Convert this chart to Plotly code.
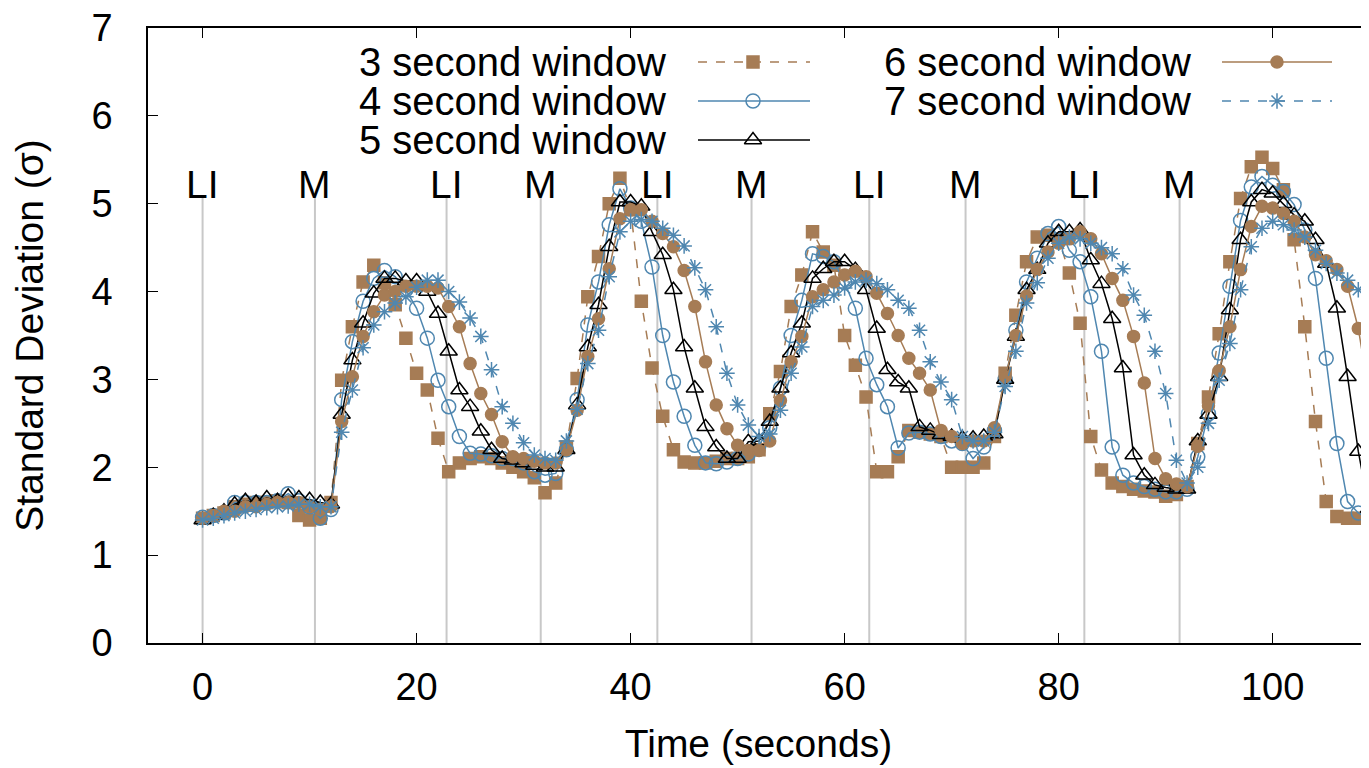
import plotly.graph_objects as go

# ---------------- data ----------------
time_s = list(range(0, 111))

sd_3s = [1.42, 1.45, 1.48, 1.55, 1.58, 1.60, 1.60, 1.62, 1.60, 1.45,
         1.40, 1.42, 1.60, 2.99, 3.60, 4.11, 4.30, 4.10, 3.85, 3.47,
         3.07, 2.88, 2.33, 1.95, 2.05, 2.10, 2.12, 2.10, 2.05, 2.00,
         1.95, 1.88, 1.71, 1.82, 2.23, 3.01, 3.94, 4.40, 5.00, 5.29,
         4.93, 3.89, 3.13, 2.58, 2.20, 2.06, 2.05, 2.05, 2.07, 2.10,
         2.10, 2.12, 2.20, 2.61, 3.09, 3.83, 4.19, 4.68, 4.45, 4.30,
         3.50, 3.16, 2.80, 1.95, 1.95, 2.12, 2.42, 2.40, 2.38, 2.35,
         2.00, 2.00, 2.00, 2.05, 2.35, 3.07, 3.73, 4.34, 4.62, 4.64,
         4.60, 4.21, 3.64, 2.35, 1.97, 1.82, 1.78, 1.75, 1.73, 1.72,
         1.67, 1.69, 1.78, 2.27, 2.80, 3.52, 4.34, 5.06, 5.42, 5.53,
         5.40, 5.16, 4.59, 3.60, 2.52, 1.61, 1.44, 1.42, 1.42, 1.42,
         1.45]

sd_4s = [1.43, 1.45, 1.48, 1.60, 1.60, 1.60, 1.60, 1.62, 1.70, 1.62,
         1.55, 1.42, 1.52, 2.77, 3.43, 3.89, 4.15, 4.24, 4.17, 4.02,
         3.81, 3.47, 2.99, 2.69, 2.35, 2.16, 2.15, 2.13, 2.10, 2.10,
         2.05, 1.95, 1.91, 1.93, 2.20, 2.77, 3.62, 4.11, 4.76, 5.17,
         4.95, 4.80, 4.28, 3.50, 2.97, 2.58, 2.25, 2.05, 2.04, 2.06,
         2.10, 2.15, 2.25, 2.45, 2.90, 3.50, 3.90, 4.43, 4.40, 4.34,
         4.10, 3.81, 3.24, 2.94, 2.69, 2.22, 2.39, 2.40, 2.38, 2.35,
         2.30, 2.27, 2.10, 2.23, 2.42, 3.00, 3.56, 4.11, 4.38, 4.66,
         4.74, 4.47, 4.34, 3.94, 3.32, 2.23, 1.91, 1.82, 1.78, 1.75,
         1.72, 1.72, 1.75, 2.12, 2.61, 3.30, 4.06, 4.81, 5.19, 5.31,
         5.21, 5.14, 4.99, 4.70, 4.15, 3.24, 2.27, 1.61, 1.48, 1.42,
         1.42]

sd_5s = [1.40, 1.45, 1.50, 1.58, 1.62, 1.60, 1.65, 1.62, 1.67, 1.65,
         1.63, 1.60, 1.58, 2.60, 3.22, 3.64, 3.98, 4.15, 4.15, 4.12,
         4.12, 4.00, 3.75, 3.32, 2.88, 2.69, 2.41, 2.20, 2.10, 2.08,
         2.05, 2.02, 2.00, 2.00, 2.20, 2.71, 3.37, 3.85, 4.51, 5.02,
         5.02, 4.97, 4.68, 4.42, 4.02, 3.37, 2.90, 2.46, 2.23, 2.10,
         2.10, 2.29, 2.30, 2.52, 2.90, 3.30, 3.64, 4.15, 4.26, 4.34,
         4.34, 4.25, 4.02, 3.58, 3.11, 2.97, 2.90, 2.46, 2.42, 2.37,
         2.35, 2.33, 2.33, 2.35, 2.38, 3.00, 3.49, 4.02, 4.25, 4.55,
         4.68, 4.68, 4.70, 4.36, 4.09, 3.69, 3.13, 2.14, 1.91, 1.80,
         1.77, 1.75, 1.75, 2.30, 2.60, 3.03, 3.79, 4.59, 5.02, 5.16,
         5.12, 5.00, 4.87, 4.80, 4.59, 4.32, 3.81, 3.03, 2.18, 1.53,
         1.45]

sd_6s = [1.42, 1.45, 1.50, 1.50, 1.55, 1.55, 1.58, 1.60, 1.60, 1.60,
         1.55, 1.52, 1.55, 2.52, 3.03, 3.49, 3.77, 3.96, 4.00, 4.06,
         4.06, 4.06, 4.04, 3.83, 3.60, 3.18, 2.84, 2.60, 2.29, 2.12,
         2.10, 2.07, 2.05, 2.05, 2.20, 2.65, 3.26, 3.69, 4.26, 4.83,
         4.93, 4.93, 4.80, 4.66, 4.51, 4.24, 3.83, 3.20, 2.71, 2.44,
         2.25, 2.19, 2.19, 2.30, 2.76, 3.20, 3.49, 3.94, 4.02, 4.11,
         4.19, 4.23, 4.17, 3.98, 3.75, 3.50, 3.24, 3.07, 2.88, 2.42,
         2.35, 2.27, 2.30, 2.30, 2.45, 3.03, 3.50, 3.95, 4.25, 4.45,
         4.55, 4.60, 4.68, 4.60, 4.43, 4.15, 3.90, 3.49, 2.96, 2.10,
         1.87, 1.81, 1.78, 2.24, 2.70, 3.10, 3.60, 4.25, 4.74, 4.97,
         4.95, 4.89, 4.80, 4.62, 4.42, 4.35, 4.25, 4.06, 3.58, 2.84,
         2.20]

sd_7s = [1.40, 1.42, 1.45, 1.48, 1.50, 1.52, 1.54, 1.55, 1.56, 1.58,
         1.58, 1.55, 1.55, 2.40, 2.88, 3.36, 3.62, 3.77, 3.87, 3.94,
         4.05, 4.13, 4.13, 4.00, 3.88, 3.70, 3.49, 3.11, 2.69, 2.50,
         2.28, 2.14, 2.10, 2.08, 2.30, 2.66, 3.18, 3.56, 4.17, 4.68,
         4.80, 4.82, 4.80, 4.72, 4.64, 4.52, 4.27, 4.02, 3.60, 3.07,
         2.71, 2.48, 2.35, 2.38, 2.65, 3.07, 3.37, 3.83, 3.90, 3.96,
         4.04, 4.11, 4.13, 4.09, 4.02, 3.90, 3.81, 3.56, 3.20, 2.97,
         2.77, 2.35, 2.30, 2.30, 2.40, 2.92, 3.32, 3.87, 4.10, 4.38,
         4.55, 4.62, 4.60, 4.55, 4.50, 4.43, 4.26, 3.96, 3.73, 3.32,
         2.84, 2.08, 1.82, 2.00, 2.50, 2.99, 3.41, 4.02, 4.51, 4.72,
         4.80, 4.76, 4.70, 4.62, 4.47, 4.32, 4.21, 4.13, 4.02, 3.85,
         3.60]

series_names = ["3 second window", "4 second window", "5 second window",
                "6 second window", "7 second window"]

event_times = [0, 10.5, 22.8, 31.6, 42.5, 51.3, 62.3, 71.3, 82.4, 91.3]
event_labels = ["LI", "M", "LI", "M", "LI", "M", "LI", "M", "LI", "M"]

x_ticks = [0, 20, 40, 60, 80, 100]
y_ticks = [0, 1, 2, 3, 4, 5, 6, 7]

# ---------------- styling ----------------
BROWN = "#a67c55"
BLUE = "#4f87b0"
BLACK = "#000000"
FONT = "Liberation Sans, Arial, sans-serif"
FS_TICK = 38
FS_TEXT = 39
FS_KEY = 40

styles = [
    dict(color=BROWN, dash="dash", symbol="square", size=12),
    dict(color=BLUE, dash="solid", symbol="circle-open", size=14),
    dict(color=BLACK, dash="solid", symbol="triangle-up-open", size=15),
    dict(color=BROWN, dash="solid", symbol="circle", size=12),
    dict(color=BLUE, dash="dash", symbol="asterisk-open", size=13),
]
all_series = [sd_3s, sd_4s, sd_5s, sd_6s, sd_7s]

# page body has an 8px margin: screen pixel = figure pixel + 8
W, H = 1361, 760
ML, MT, MB, MR = 140, 20, 125, 0

fig = go.Figure()

# event markers (vertical grey lines)
for t in event_times:
    fig.add_shape(type="line", x0=t, x1=t, y0=0, y1=5.1, xref="x", yref="y",
                  line=dict(color="#c8c8c8", width=2), layer="below")
for t, lab in zip(event_times, event_labels):
    fig.add_annotation(x=t, y=(643 - 184) / 615, xref="x", yref="paper",
                       text=lab, showarrow=False, xanchor="center", yanchor="middle",
                       font=dict(family=FONT, size=FS_TEXT, color="black"))

for name, vals, st in zip(series_names, all_series, styles):
    fig.add_trace(go.Scatter(
        x=time_s, y=vals, name=name, mode="lines+markers",
        line=dict(color=st["color"], width=1.5, dash=st["dash"]),
        marker=dict(symbol=st["symbol"], size=st["size"], color=st["color"],
                    line=dict(color=st["color"], width=1.5)),
        showlegend=False, cliponaxis=True,
    ))

# ---------------- manual legend (gnuplot style: text then sample) ----------------
# positions given in screen pixels of the plot frame (148..1369, 28..643)
def fx(px):
    return (px - 148) / 1221.0

def fy(py):
    return (643 - py) / 615.0

legend_pos = [
    (668, 698, 810, 753, 62),
    (668, 698, 810, 753, 101),
    (668, 698, 810, 753, 140),
    (1193, 1222, 1332, 1277, 62),
    (1193, 1222, 1332, 1277, 101),
]
for name, st, (tx, lx0, lx1, mx, py) in zip(series_names, styles, legend_pos):
    fig.add_annotation(x=fx(tx), y=fy(py), xref="paper", yref="paper", text=name,
                       showarrow=False, xanchor="right", yanchor="middle",
                       font=dict(family=FONT, size=FS_KEY, color="black"))
    fig.add_trace(go.Scatter(
        x=[fx(lx0), fx(lx1)], y=[fy(py), fy(py)], xaxis="x2", yaxis="y2",
        mode="lines", line=dict(color=st["color"], width=1.5, dash=st["dash"]),
        showlegend=False, hoverinfo="skip"))
    fig.add_trace(go.Scatter(
        x=[fx(mx)], y=[fy(py)], xaxis="x2", yaxis="y2", mode="markers",
        marker=dict(symbol=st["symbol"], size=st["size"], color=st["color"],
                    line=dict(color=st["color"], width=1.5)),
        showlegend=False, hoverinfo="skip"))

fig.update_layout(
    width=W, height=H,
    margin=dict(l=ML, r=MR, t=MT, b=MB),
    paper_bgcolor="white", plot_bgcolor="white",
    font=dict(family=FONT, size=FS_TICK, color="black"),
    showlegend=False,
    xaxis=dict(
        range=[-5.1, 109.0], tickvals=x_ticks, ticks="inside", ticklen=10,
        tickwidth=1.2, tickcolor="black", showline=True, linecolor="black",
        linewidth=1.5, mirror="ticks", showgrid=False, zeroline=False,
        ticklabelstandoff=10, ticklabeloverflow="allow",
        title=dict(text="Time (seconds)", standoff=22,
                   font=dict(family=FONT, size=FS_TEXT)),
        tickfont=dict(family=FONT, size=FS_TICK),
    ),
    yaxis=dict(
        range=[0, 7], tickvals=y_ticks, ticks="inside", ticklen=10,
        tickwidth=1.2, tickcolor="black", showline=True, linecolor="black",
        linewidth=1.5, mirror=False, showgrid=False, zeroline=False,
        ticklabelstandoff=26, ticklabeloverflow="allow",
        title=dict(text="Standard Deviation (σ)", standoff=40,
                   font=dict(family=FONT, size=FS_TEXT)),
        tickfont=dict(family=FONT, size=FS_TICK),
    ),
    xaxis2=dict(overlaying="x", range=[0, 1], visible=False, fixedrange=True),
    yaxis2=dict(overlaying="y", range=[0, 1], visible=False, fixedrange=True),
)

fig.write_html("out.html")
